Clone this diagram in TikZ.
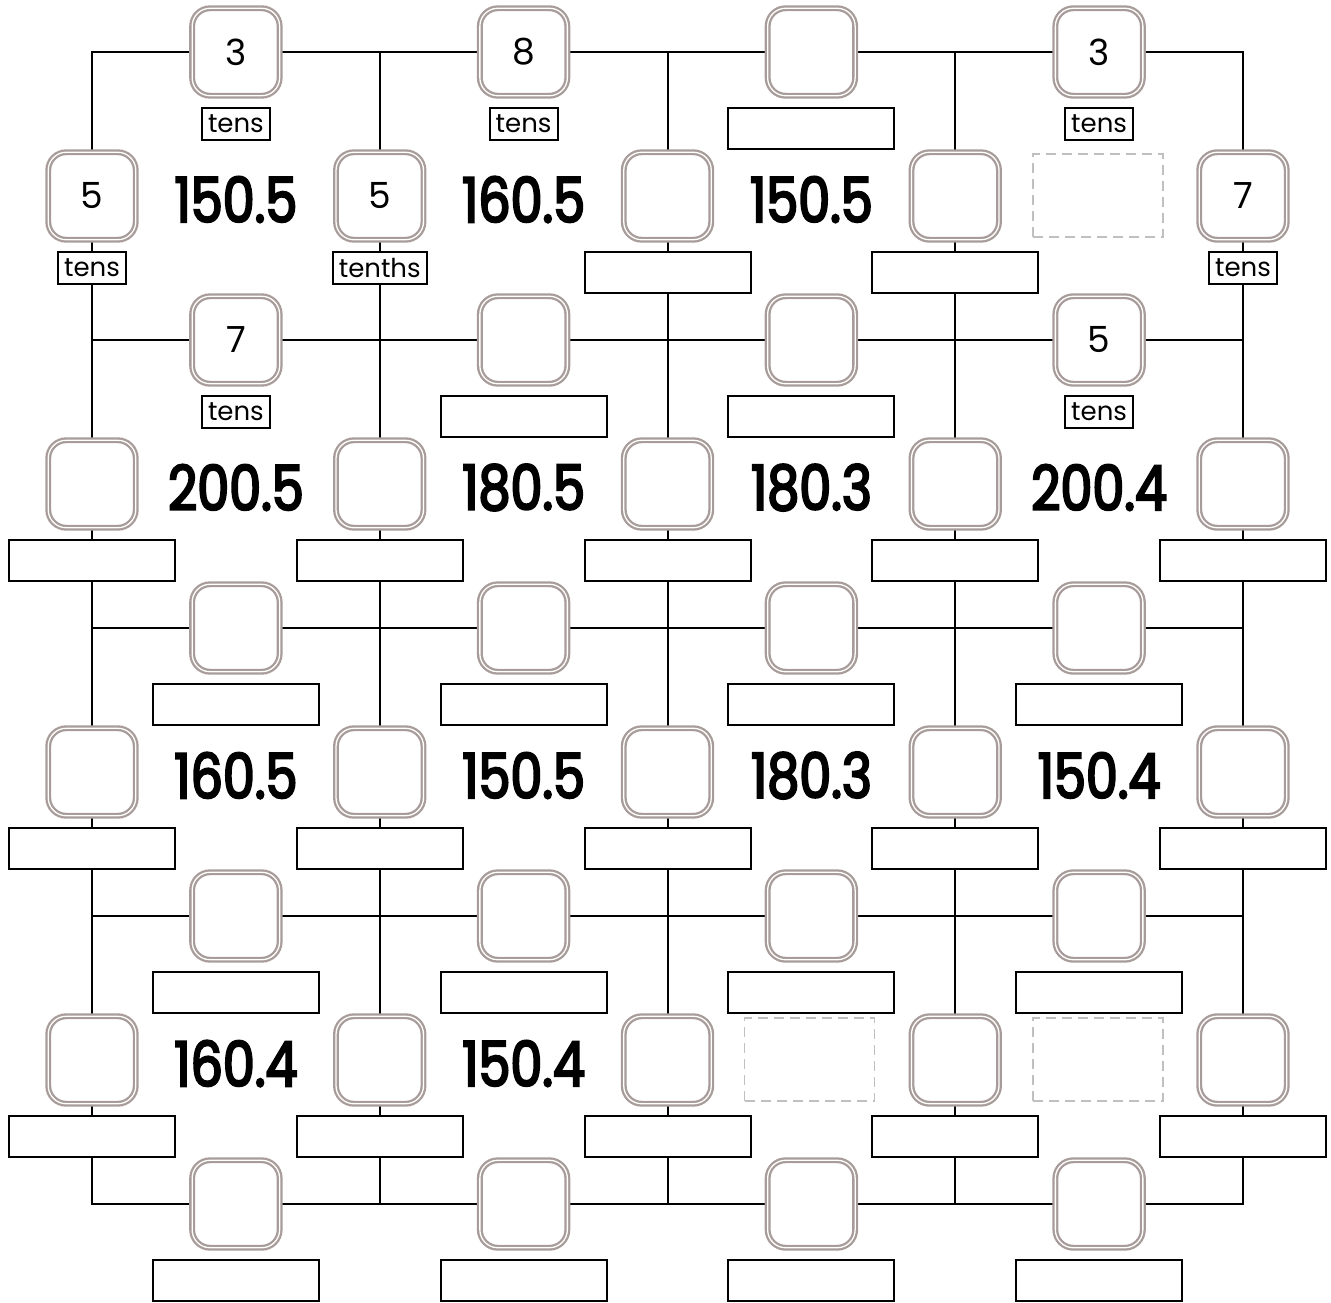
\documentclass[tikz,border=0pt]{standalone}
\usepackage{fontspec}
\setmainfont{Poppins}
\newfontfamily\bignum{Poppins}[FakeStretch=0.82,FakeBold=3.5]
\definecolor{boxgray}{RGB}{168,156,154}
\definecolor{ghostgray}{RGB}{192,192,192}
\newcommand\valnode[5]{%
  \node[valbox] (#1) at (#2,#3) {#4};
  \def\unittext{#5}%
  \ifx\unittext\empty
    \node[blankbox] (#1-lab) at (#2,#3+55) {};
  \else
    \node[unitbox] (#1-lab) at (#2,#3+55) {#5};
  \fi}
\begin{document}
\begin{tikzpicture}[x=1pt,y=-1pt,
  gridline/.style={line width=2pt,black,line cap=rect},
  valbox/.style={draw=boxgray, line width=2.3pt, double=white, double distance=1.3pt, fill=white,
    rounded corners=18pt, minimum width=87.5pt, minimum height=87.5pt, inner sep=0pt,
    font=\fontsize{36}{36}\selectfont},
  unitbox/.style={draw, line width=2pt, fill=white, anchor=north, minimum height=32pt,
    inner xsep=6pt, inner ysep=0pt, font=\fontsize{26}{26}\selectfont},
  blankbox/.style={draw, line width=2pt, fill=white, anchor=north, minimum width=166pt,
    minimum height=41pt, inner sep=0pt},
  bignumber/.style={font=\bignum\fontsize{62}{62}\selectfont, inner sep=0pt},
  ghost/.style={draw=ghostgray, line width=1.8pt, dash pattern=on 10pt off 6pt,
    minimum width=130pt, minimum height=83pt, inner sep=0pt}
]
\useasboundingbox (0,0) rectangle (1331,1303);
% grid coordinates
\foreach \i/\x in {0/92,1/379.75,2/667.5,3/955.25,4/1243}
  \foreach \j/\y in {0/52,1/340,2/628,3/916,4/1204}
    \coordinate (g-\i-\j) at (\x,\y);
\foreach \j in {0,...,4} \draw[gridline] (g-0-\j) -- (g-4-\j);
\foreach \i in {0,...,4} \draw[gridline] (g-\i-0) -- (g-\i-4);
% row 0 horizontal
\valnode{h-0-0}{235.9}{52}{3}{tens}
\valnode{h-0-1}{523.6}{52}{8}{tens}
\valnode{h-0-2}{811.4}{52}{}{}
\valnode{h-0-3}{1099.1}{52}{3}{tens}
% row 0 vertical
\valnode{v-0-0}{92}{196}{5}{tens}
\valnode{v-0-1}{379.75}{196}{5}{tenths}
\valnode{v-0-2}{667.5}{196}{}{}
\valnode{v-0-3}{955.25}{196}{}{}
\valnode{v-0-4}{1243}{196}{7}{tens}
% row 1 horizontal
\valnode{h-1-0}{235.9}{340}{7}{tens}
\valnode{h-1-1}{523.6}{340}{}{}
\valnode{h-1-2}{811.4}{340}{}{}
\valnode{h-1-3}{1099.1}{340}{5}{tens}
% remaining blank nodes
\foreach \j/\y in {2/628,3/916,4/1204}
  \foreach \i/\x in {0/235.9,1/523.6,2/811.4,3/1099.1}
    {\valnode{h-\j-\i}{\x}{\y}{}{}}
\foreach \j/\y in {1/484,2/772,3/1060}
  \foreach \i/\x in {0/92,1/379.75,2/667.5,3/955.25,4/1243}
    {\valnode{v-\j-\i}{\x}{\y}{}{}}
% cell numbers
\node[bignumber] (n-0-0) at (235.9,199.5) {150.5};
\node[bignumber] (n-0-1) at (523.6,199.5) {160.5};
\node[bignumber] (n-0-2) at (811.4,199.5) {150.5};
\node[ghost] (n-0-3) at (1098,195.5) {};
\node[bignumber] (n-1-0) at (235.9,487.5) {200.5};
\node[bignumber] (n-1-1) at (523.6,487.5) {180.5};
\node[bignumber] (n-1-2) at (811.4,487.5) {180.3};
\node[bignumber] (n-1-3) at (1099.1,487.5) {200.4};
\node[bignumber] (n-2-0) at (235.9,775.5) {160.5};
\node[bignumber] (n-2-1) at (523.6,775.5) {150.5};
\node[bignumber] (n-2-2) at (811.4,775.5) {180.3};
\node[bignumber] (n-2-3) at (1099.1,775.5) {150.4};
\node[bignumber] (n-3-0) at (235.9,1063.5) {160.4};
\node[bignumber] (n-3-1) at (523.6,1063.5) {150.4};
\node[ghost] (n-3-2) at (809.5,1059.5) {};
\node[ghost] (n-3-3) at (1098,1059.5) {};
\end{tikzpicture}
\end{document}
